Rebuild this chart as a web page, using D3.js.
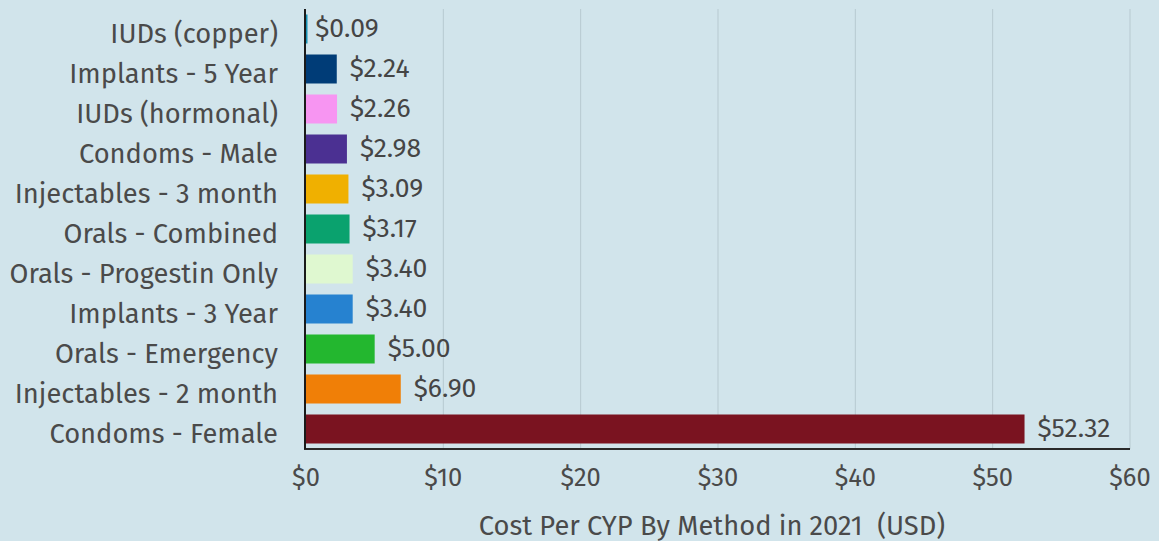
<!DOCTYPE html>
<html>
<head>
<meta charset="utf-8">
<script src="https://cdn.jsdelivr.net/npm/d3@7"></script>
<style>
  html, body { margin: 0; padding: 0; background: #d1e4eb; }
  svg { display: block; }
</style>
</head>
<body>
<div id="chart"></div>
<script>
// data
const methods = ["IUDs (copper)", "Implants - 5 Year", "IUDs (hormonal)", "Condoms - Male",
  "Injectables - 3 month", "Orals - Combined", "Orals - Progestin Only", "Implants - 3 Year",
  "Orals - Emergency", "Injectables - 2 month", "Condoms - Female"];
const costs = [0.09, 2.24, 2.26, 2.98, 3.09, 3.17, 3.40, 3.40, 5.00, 6.90, 52.32];
const barColors = ["#1590b4", "#003c77", "#f795f2", "#4b3092", "#f0b000", "#0aa26e",
  "#dff8d0", "#2682d0", "#23b72f", "#f07f07", "#7a1320"];
const xTicks = [0, 10, 20, 30, 40, 50, 60];
const xTitle = "Cost Per CYP By Method in 2021  (USD)";

const width = 1159, height = 541;
const margin = { top: 9, right: 29, bottom: 92, left: 306 };

const svg = d3.select("#chart").append("svg")
  .attr("width", width)
  .attr("height", height)
  .style("font-family", "'Fira Sans', 'Open Sans', sans-serif");

const x = d3.scaleLinear().domain([0, 60]).range([margin.left, width - margin.right]);
const y = d3.scaleBand().domain(methods)
  .range([margin.top, height - margin.bottom])
  .paddingInner(0.275).paddingOuter(0.1375);

// gridlines
svg.append("g")
  .selectAll("line")
  .data(xTicks.slice(1))
  .join("line")
  .attr("x1", d => x(d)).attr("x2", d => x(d))
  .attr("y1", margin.top).attr("y2", height - margin.bottom)
  .attr("stroke", "#b7c9d0")
  .attr("stroke-width", 1);

// bars
svg.append("g")
  .selectAll("rect")
  .data(methods)
  .join("rect")
  .attr("x", x(0))
  .attr("y", d => y(d))
  .attr("width", (d, i) => Math.max(1.5, x(costs[i]) - x(0)))
  .attr("height", y.bandwidth())
  .attr("fill", (d, i) => barColors[i]);

// value labels
svg.append("g")
  .selectAll("text")
  .data(methods)
  .join("text")
  .attr("x", (d, i) => x(costs[i]) + (costs[i] < 1 ? 8 : 13))
  .attr("y", d => y(d) + y.bandwidth() / 2)
  .attr("dy", "0.3em")
  .attr("font-size", 26.5)
  .attr("fill", "#454545")
  .text((d, i) => "$" + costs[i].toFixed(2));

// category labels
svg.append("g")
  .selectAll("text")
  .data(methods)
  .join("text")
  .attr("x", margin.left - 28)
  .attr("y", d => y(d) + y.bandwidth() / 2)
  .attr("dy", "0.52em")
  .attr("text-anchor", "end")
  .attr("font-size", 27.3)
  .attr("fill", "#4a4a4a")
  .text(d => d);

// axes lines
const bottomY = height - margin.bottom;
svg.append("line")
  .attr("x1", x(0) - 2).attr("x2", x(60))
  .attr("y1", bottomY).attr("y2", bottomY)
  .attr("stroke", "#2a2a2a").attr("stroke-width", 1.8);
svg.append("line")
  .attr("x1", x(0) - 1).attr("x2", x(0) - 1)
  .attr("y1", margin.top).attr("y2", bottomY)
  .attr("stroke", "#1a1a1a").attr("stroke-width", 2);

// x tick labels
svg.append("g")
  .selectAll("text")
  .data(xTicks)
  .join("text")
  .attr("x", d => x(d))
  .attr("y", 486)
  .attr("text-anchor", "middle")
  .attr("font-size", 25.5)
  .attr("fill", "#4a4a4a")
  .text(d => "$" + d);

// axis title
svg.append("text")
  .attr("x", (x(0) + x(60)) / 2 - 6)
  .attr("y", 535)
  .attr("text-anchor", "middle")
  .attr("font-size", 27.3)
  .attr("fill", "#4a4a4a")
  .style("white-space", "pre")
  .text(xTitle);
</script>
</body>
</html>
